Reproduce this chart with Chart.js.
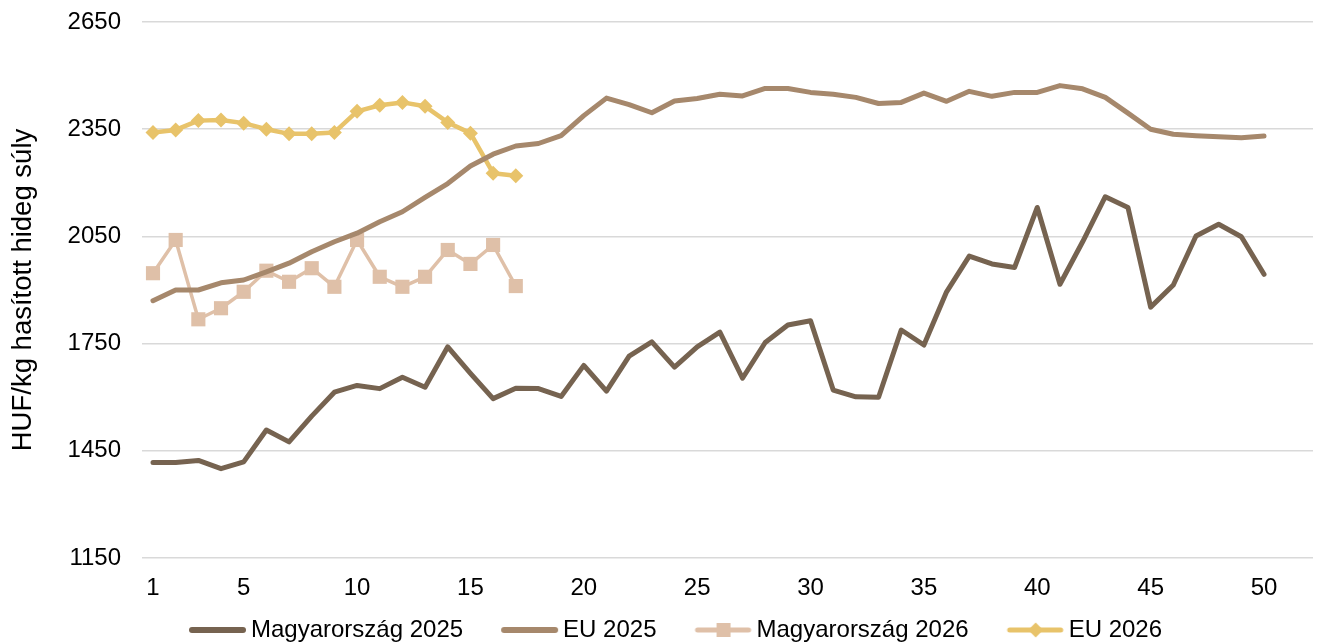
<!DOCTYPE html>
<html>
<head>
<meta charset="utf-8">
<script src="https://cdn.jsdelivr.net/npm/chart.js@4"></script>
<style>
  html, body { margin: 0; padding: 0; background: #fff; overflow: hidden; }
  #wrap { width: 1323px; height: 644px; position: relative; }
</style>
</head>
<body>
<div id="wrap"><canvas id="grafico"></canvas></div>
<script>
// weeks 1..52, only every 5th is labelled
var hetek = [];
for (var i = 1; i <= 52; i++) hetek.push(i);
var hetCimkek = [1, 5, 10, 15, 20, 25, 30, 35, 40, 45, 50];

var magyar2025 = [1417, 1417, 1423, 1400, 1419, 1508, 1475, 1547, 1614, 1633,
                  1624, 1656, 1628, 1741, 1667, 1596, 1625, 1624, 1602, 1689,
                  1617, 1715, 1755, 1684, 1741, 1782, 1653, 1753, 1802, 1814,
                  1620, 1601, 1600, 1788, 1746, 1895, 1995, 1973, 1963, 2131,
                  1916, 2035, 2161, 2131, 1852, 1914, 2051, 2084, 2049, 1944];
var eu2025 = [1870, 1900, 1900, 1920, 1928, 1951, 1975, 2007, 2035, 2059,
              2091, 2119, 2159, 2198, 2247, 2280, 2303, 2310, 2332, 2388,
              2437, 2419, 2396, 2429, 2436, 2448, 2443, 2464, 2464, 2453,
              2448, 2439, 2422, 2425, 2451, 2428, 2456, 2442, 2453, 2453,
              2472, 2463, 2439, 2395, 2350, 2336, 2332, 2329, 2326, 2331];
var magyar2026 = [1947, 2040, 1818, 1849, 1895, 1954, 1923, 1961, 1909, 2040,
                  1937, 1909, 1937, 2012, 1973, 2026, 1911];
var eu2026 = [2341, 2348, 2374, 2376, 2367, 2350, 2337, 2337, 2341, 2400,
              2417, 2425, 2414, 2369, 2339, 2227, 2220];

var szinek = ['#766350', '#A6886C', '#DFC0A8', '#E8C36A'];

// legend sample: line with its marker; the picture is wider than the box
// so it reaches close to the text
function mintaKep(szin, jel, vastag) {
  var c = document.createElement('canvas');
  c.width = 62; c.height = 22;
  var g = c.getContext('2d');
  g.strokeStyle = szin; g.lineWidth = vastag; g.lineCap = 'round';
  g.beginPath(); g.moveTo(7, 11); g.lineTo(58, 11); g.stroke();
  g.fillStyle = szin;
  var cx = 33;
  if (jel === 'rect') {
    g.fillRect(cx - 7, 11 - 7, 14, 14);
  } else if (jel === 'rectRot') {
    g.beginPath();
    g.moveTo(cx, 11 - 7.5); g.lineTo(cx + 7.5, 11);
    g.lineTo(cx, 11 + 7.5); g.lineTo(cx - 7.5, 11);
    g.closePath(); g.fill();
  }
  return c;
}

// the legend in the original sits a little right of centre
var legendaEltolas = {
  id: 'legendaEltolas',
  afterLayout: function(chart) {
    if (chart.legend) {
      chart.legend.left += 21;
      chart.legend.right += 21;
    }
  }
};

var betu = 'Liberation Sans, Arial';

var ctx = document.getElementById('grafico').getContext('2d');
var myChart = new Chart(ctx, {
  type: 'line',
  data: {
    labels: hetek,
    datasets: [{
      label: 'Magyarország 2025',
      data: magyar2025,
      borderColor: szinek[0],
      backgroundColor: szinek[0],
      borderWidth: 5,
      pointRadius: 0,
      _minta: mintaKep(szinek[0], null, 6)
    }, {
      label: 'EU 2025',
      data: eu2025,
      borderColor: szinek[1],
      backgroundColor: szinek[1],
      borderWidth: 5,
      pointRadius: 0,
      _minta: mintaKep(szinek[1], null, 6)
    }, {
      label: 'Magyarország 2026',
      data: magyar2026,
      borderColor: szinek[2],
      backgroundColor: szinek[2],
      borderWidth: 3.5,
      pointStyle: 'rect',
      pointRadius: 10,
      pointBorderWidth: 0,
      _minta: mintaKep(szinek[2], 'rect', 5)
    }, {
      label: 'EU 2026',
      data: eu2026,
      borderColor: szinek[3],
      backgroundColor: szinek[3],
      borderWidth: 4.5,
      pointStyle: 'rectRot',
      pointRadius: 7.5,
      pointBorderWidth: 0,
      _minta: mintaKep(szinek[3], 'rectRot', 5)
    }]
  },
  plugins: [legendaEltolas],
  options: {
    responsive: true,
    maintainAspectRatio: false,
    animation: false,
    layout: { padding: { top: 22, right: 10, left: 0, bottom: -8 } },
    elements: { line: { tension: 0, borderJoinStyle: 'round', borderCapStyle: 'round' } },
    scales: {
      x: {
        type: 'linear',
        min: 0.515,
        max: 52.16,
        grid: { display: false },
        border: { display: false },
        afterBuildTicks: function(scale) {
          scale.ticks = hetCimkek.map(function(h) { return { value: h }; });
        },
        afterFit: function(scale) {
          scale.height = 58;
          scale.paddingLeft = 0;
          scale.paddingRight = 0;
        },
        ticks: {
          autoSkip: false,
          maxRotation: 0,
          padding: 8,
          color: '#000',
          font: { family: betu, size: 24 },
          callback: function(value) { return String(value); }
        }
      },
      y: {
        min: 1150,
        max: 2650,
        afterFit: function(scale) {
          scale.width = 142;
          scale.paddingTop = 0;
          scale.paddingBottom = 0;
        },
        grid: { color: '#d9d9d9', lineWidth: 1.5, drawTicks: false },
        border: { display: false },
        ticks: {
          stepSize: 300,
          padding: 21,
          color: '#000',
          font: { family: betu, size: 24 },
          callback: function(value) { return String(value); }
        },
        title: {
          display: true,
          text: 'HUF/kg hasított hideg súly',
          color: '#000',
          padding: { top: 7, bottom: 0 },
          font: { family: betu, size: 27.5 }
        }
      }
    },
    plugins: {
      legend: {
        position: 'bottom',
        labels: {
          usePointStyle: true,
          pointStyleWidth: 46,
          padding: 2,
          color: '#000',
          font: { family: betu, size: 24 },
          generateLabels: function(chart) {
            var n = chart.data.datasets.length;
            return chart.data.datasets.map(function(ds, idx) {
              return {
                // trailing spaces give the wide gap between legend items
                text: idx < n - 1 ? ds.label + '      ' : ds.label,
                pointStyle: ds._minta,
                fillStyle: ds.borderColor,
                strokeStyle: ds.borderColor,
                lineWidth: 0,
                hidden: false,
                datasetIndex: idx
              };
            });
          }
        }
      },
      tooltip: { enabled: false }
    }
  }
});
</script>
</body>
</html>
